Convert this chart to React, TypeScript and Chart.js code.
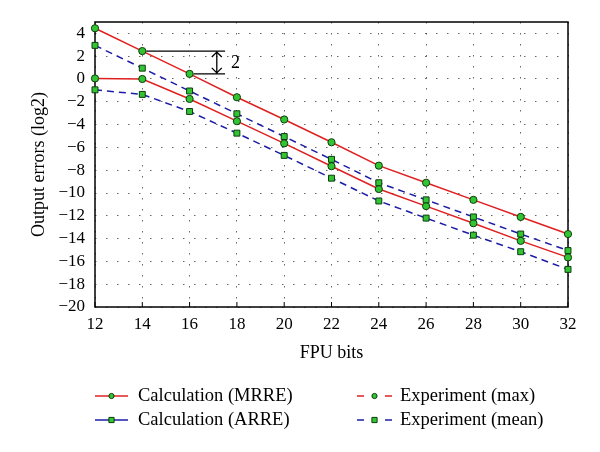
import React, { useEffect, useRef } from 'react';
import { Chart, registerables } from 'chart.js';

Chart.register(...registerables);

// ---- data ----
const fpuBits = [12, 14, 16, 18, 20, 22, 24, 26, 28, 30, 32];
const calcMRRE = [4.45, 2.45, 0.45, -1.6, -3.55, -5.55, -7.6, -9.1, -10.6, -12.1, -13.6];
const calcARRE = [2.95, 0.95, -1.05, -3.05, -5.05, -7.05, -9.1, -10.6, -12.1, -13.6, -15.05];
const expMax = [0.05, 0, -1.75, -3.7, -5.65, -7.65, -9.65, -11.15, -12.65, -14.2, -15.65];
const expMean = [-0.95, -1.35, -2.85, -4.75, -6.7, -8.7, -10.7, -12.2, -13.7, -15.15, -16.7];
const yTicks = [-20, -18, -16, -14, -12, -10, -8, -6, -4, -2, 0, 2, 4];
const xTicks = [12, 14, 16, 18, 20, 22, 24, 26, 28, 30, 32];
const seriesLabels = ['Calculation (MRRE)', 'Calculation (ARRE)', 'Experiment (max)', 'Experiment (mean)'];
const xTitle = 'FPU bits';
const yTitle = 'Output errors (log2)';
// annotation: difference between MRRE at 14 and 16 bits
const annoFromIndex = 1;
const annoToIndex = 2;
const annoLineEndX = 17.5;
const annoArrowX = 17.15;
const annoLabelX = 17.75;
const annoLabel = '2';

const RED = '#e02020';
const BLUE = '#1c1ca8';
const GREEN = '#33c433';
const GREEN_EDGE = '#0b3d0b';
const FONT = '"Liberation Serif", "DejaVu Serif", serif';

const fmt = (v: number) => (v < 0 ? '\u2212' + Math.abs(v) : String(v));

const toPts = (arr: number[]) => fpuBits.map((x, i) => ({ x, y: arr[i] }));

function drawMarker(ctx: CanvasRenderingContext2D, kind: 'circle' | 'rect', x: number, y: number, r: number) {
  ctx.save();
  ctx.setLineDash([]);
  ctx.fillStyle = GREEN;
  ctx.strokeStyle = GREEN_EDGE;
  ctx.lineWidth = 1;
  ctx.beginPath();
  if (kind === 'circle') ctx.arc(x, y, r, 0, Math.PI * 2);
  else ctx.rect(x - r, y - r, 2 * r, 2 * r);
  ctx.fill();
  ctx.stroke();
  ctx.restore();
}

const framePlugin = {
  id: 'frame',
  beforeDatasetsDraw(chart: any) {
    const { ctx, chartArea: a, scales } = chart;
    ctx.save();
    ctx.strokeStyle = '#000';
    ctx.lineWidth = 1.5;
    ctx.setLineDash([]);
    ctx.strokeRect(a.left, a.top, a.right - a.left, a.bottom - a.top);
    ctx.lineWidth = 1;
    ctx.beginPath();
    xTicks.forEach((t) => {
      const px = scales.x.getPixelForValue(t);
      ctx.moveTo(px, a.bottom);
      ctx.lineTo(px, a.bottom - 5);
    });
    ctx.stroke();
    ctx.restore();
  },
};

const annotationPlugin = {
  id: 'diffAnno',
  afterDatasetsDraw(chart: any) {
    const { ctx, scales } = chart;
    const xs = scales.x;
    const ys = scales.y;
    const y1 = ys.getPixelForValue(calcMRRE[annoFromIndex]);
    const y2 = ys.getPixelForValue(calcMRRE[annoToIndex]);
    const x1 = xs.getPixelForValue(fpuBits[annoFromIndex]);
    const x2 = xs.getPixelForValue(fpuBits[annoToIndex]);
    const xe = xs.getPixelForValue(annoLineEndX);
    const xa = xs.getPixelForValue(annoArrowX);
    const xl = xs.getPixelForValue(annoLabelX);
    ctx.save();
    ctx.strokeStyle = '#000';
    ctx.lineWidth = 1.3;
    ctx.setLineDash([]);
    ctx.beginPath();
    ctx.moveTo(x1 + 4, y1);
    ctx.lineTo(xe, y1);
    ctx.moveTo(x2 + 4, y2);
    ctx.lineTo(xe, y2);
    ctx.moveTo(xa, y1 + 1);
    ctx.lineTo(xa, y2 - 1);
    ctx.moveTo(xa - 5, y1 + 6);
    ctx.lineTo(xa, y1 + 1);
    ctx.lineTo(xa + 5, y1 + 6);
    ctx.moveTo(xa - 5, y2 - 6);
    ctx.lineTo(xa, y2 - 1);
    ctx.lineTo(xa + 5, y2 - 6);
    ctx.stroke();
    ctx.fillStyle = '#000';
    ctx.font = '18px ' + FONT;
    ctx.textAlign = 'left';
    ctx.textBaseline = 'middle';
    ctx.fillText(annoLabel, xl, (y1 + y2) / 2 + 1);
    ctx.restore();
  },
};

const legendItems = [
  { label: seriesLabels[0], color: RED, dashed: false, marker: 'circle' as const, col: 0, row: 0 },
  { label: seriesLabels[1], color: BLUE, dashed: false, marker: 'rect' as const, col: 0, row: 1 },
  { label: seriesLabels[2], color: RED, dashed: true, marker: 'circle' as const, col: 1, row: 0 },
  { label: seriesLabels[3], color: BLUE, dashed: true, marker: 'rect' as const, col: 1, row: 1 },
];
const legendCols = [
  { x0: 95, x1: 128, tx: 138 },
  { x0: 357, x1: 392, tx: 400 },
];
const legendRows = [396, 420];

const legendPlugin = {
  id: 'customLegend',
  afterDraw(chart: any) {
    const { ctx } = chart;
    ctx.save();
    legendItems.forEach((it) => {
      const c = legendCols[it.col];
      const y = legendRows[it.row];
      const mid = (c.x0 + c.x1) / 2;
      ctx.strokeStyle = it.color;
      ctx.lineWidth = 1.5;
      ctx.setLineDash([]);
      ctx.beginPath();
      if (it.dashed) {
        ctx.moveTo(c.x0, y);
        ctx.lineTo(c.x0 + 7, y);
        ctx.moveTo(c.x1 - 7, y);
        ctx.lineTo(c.x1, y);
      } else {
        ctx.moveTo(c.x0, y);
        ctx.lineTo(c.x1, y);
      }
      ctx.stroke();
      drawMarker(ctx, it.marker, mid, y, 2.6);
      ctx.fillStyle = '#000';
      ctx.font = '18.5px ' + FONT;
      ctx.textAlign = 'left';
      ctx.textBaseline = 'middle';
      ctx.fillText(it.label, c.tx, y);
    });
    ctx.restore();
  },
};

export default function App() {
  const ref = useRef<HTMLCanvasElement | null>(null);

  useEffect(() => {
    if (!ref.current) return;
    Chart.defaults.font.family = FONT;
    const common = {
      pointBackgroundColor: GREEN,
      pointBorderColor: GREEN_EDGE,
      pointBorderWidth: 1,
      borderWidth: 1.5,
      fill: false,
      tension: 0,
      clip: false as const,
    };
    const chart = new Chart(ref.current, {
      type: 'line',
      data: {
        datasets: [
          { ...common, label: seriesLabels[0], data: toPts(calcMRRE), borderColor: RED, pointStyle: 'circle', pointRadius: 3.6 },
          { ...common, label: seriesLabels[1], data: toPts(calcARRE), borderColor: BLUE, borderDash: [7, 5], pointStyle: 'rect', pointRadius: 4.2 },
          { ...common, label: seriesLabels[2], data: toPts(expMax), borderColor: RED, pointStyle: 'circle', pointRadius: 3.6 },
          { ...common, label: seriesLabels[3], data: toPts(expMean), borderColor: BLUE, borderDash: [7, 5], pointStyle: 'rect', pointRadius: 4.2 },
        ],
      },
      options: {
        animation: false,
        responsive: true,
        maintainAspectRatio: false,
        layout: { padding: { top: 22, right: 32, bottom: 85, left: 0 } },
        plugins: {
          legend: { display: false },
          tooltip: { enabled: false },
        },
        scales: {
          x: {
            type: 'linear',
            min: 12,
            max: 32,
            afterBuildTicks: (s: any) => {
              s.ticks = xTicks.map((v) => ({ value: v }));
            },
            afterFit: (s: any) => {
              s.height = 60;
            },
            ticks: {
              color: '#000',
              font: { size: 17, family: FONT },
              padding: 7,
              maxRotation: 0,
              callback: (v: any) => fmt(Number(v)),
            },
            grid: { color: 'rgba(0,0,0,0.6)', lineWidth: 1, drawTicks: false },
            border: { display: false, dash: [1.5, 9.5] },
            title: { display: true, text: xTitle, color: '#000', font: { size: 18, family: FONT }, padding: { top: 0, bottom: 3 } },
          },
          y: {
            type: 'linear',
            min: -20,
            max: 5,
            afterBuildTicks: (s: any) => {
              s.ticks = yTicks.map((v) => ({ value: v }));
            },
            afterFit: (s: any) => {
              s.width = 95;
            },
            ticks: {
              color: '#000',
              font: { size: 17, family: FONT },
              padding: 10,
              callback: (v: any) => fmt(Number(v)),
            },
            grid: { color: 'rgba(0,0,0,0.6)', lineWidth: 1, drawTicks: false },
            border: { display: false, dash: [1.5, 9.5] },
            title: { display: true, text: yTitle, color: '#000', font: { size: 18, family: FONT }, padding: { top: 28, bottom: 0 } },
          },
        },
      },
      plugins: [framePlugin, annotationPlugin, legendPlugin],
    } as any);
    return () => chart.destroy();
  }, []);

  return (
    <div style={{ position: 'absolute', left: 0, top: 0, width: 600, height: 452, background: '#fff' }}>
      <canvas ref={ref} />
    </div>
  );
}
